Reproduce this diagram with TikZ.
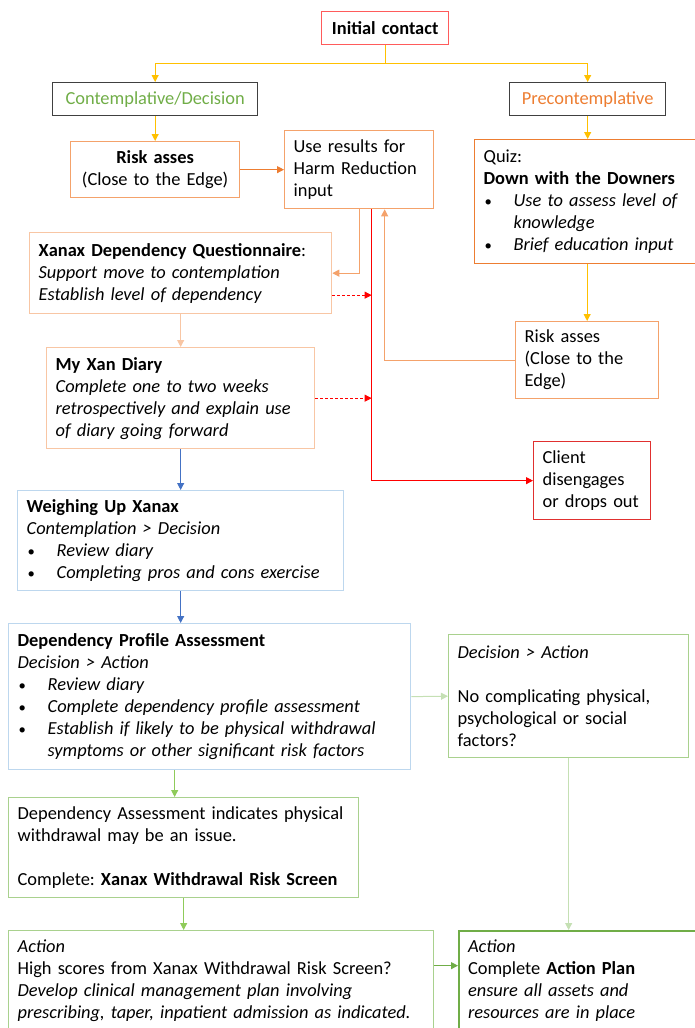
\documentclass[tikz,border=0pt]{standalone}
\usepackage{fontspec}
\setmainfont{Carlito}
\usetikzlibrary{arrows.meta}
\frenchspacing

\definecolor{gold}{HTML}{FFC000}
\definecolor{initred}{HTML}{FF5B5B}
\definecolor{dropred}{HTML}{E0302F}
\definecolor{darkline}{HTML}{404040}
\definecolor{ctgreen}{HTML}{70AD47}
\definecolor{ctorange}{HTML}{ED7D31}
\definecolor{midorange}{HTML}{F4A26B}
\definecolor{paleorange}{HTML}{F8C6A4}
\definecolor{arrblue}{HTML}{4472C4}
\definecolor{paleblue}{HTML}{BDD7EE}
\definecolor{palegreen}{HTML}{C5E0B4}
\definecolor{midgreen}{HTML}{A9D18E}
\definecolor{brightgreen}{HTML}{8FCB5A}

\newcommand\fs{\fontsize{18.4}{22}\selectfont}
\newcommand\bul{\makebox[30pt][l]{\hspace{1pt}\scalebox{0.8}{\textbullet}}}
\newcommand\ind{\hspace*{30pt}}

\tikzset{every picture/.style={line width=1pt}}
\tikzset{
  box/.style={draw=#1, rectangle, anchor=north west, align=left,
                inner xsep=9pt, inner ysep=0pt, line width=1.3pt, font=\fs},
  box/.default={midorange},
  cbox/.style={box=#1, align=center},
  arr/.style={draw=#1, -{Triangle[length=7pt,width=7pt]}},
  arr/.default={gold},
}

\begin{document}
\begin{tikzpicture}[x=1pt, y=-1pt]
  \useasboundingbox (0,0) rectangle (695,1028);
  \clip (0,0) rectangle (695,1028);
  % top row
  \node[cbox=initred, text width=109pt, minimum height=33pt] (init) at (321,11) {\textbf{Initial contact}};
  \node[cbox=darkline, text width=187pt, minimum height=33pt, text=ctgreen] (contemp) at (52,82) {Contemplative/Decision};
  \node[cbox=darkline, text width=138pt, minimum height=33pt, text=ctorange] (precon) at (509,82) {Precontemplative};
  % orange boxes
  \node[cbox, text width=151pt, minimum height=56pt] (riskL) at (70,141) {\textbf{Risk asses}\\(Close to the Edge)};
  \node[box, text width=131pt, minimum height=78pt] (useres) at (284,130) {Use results for\\Harm Reduction\\input};
  \node[box=ctorange, text width=222pt, minimum height=124pt] (quiz) at (474,139)
    {Quiz:\\\textbf{Down with the Downers}\\\bul\textit{Use to assess level of}\\\ind\textit{knowledge}\\\bul\textit{Brief education input}};
  \node[box=paleorange, text width=284pt, minimum height=81pt] (xdq) at (29,232)
    {\textbf{Xanax Dependency Questionnaire}:\\\textit{Support move to contemplation}\\\textit{Establish level of dependency}};
  \node[box, text width=125pt, minimum height=77pt] (riskR) at (515,321) {Risk asses\\(Close to the\\Edge)};
  \node[box=paleorange, text width=250pt, minimum height=101pt] (diary) at (46,347)
    {\textbf{My Xan Diary}\\\textit{Complete one to two weeks}\\\textit{retrospectively and explain use}\\\textit{of diary going forward}};
  \node[box=dropred, text width=99pt, minimum height=78pt] (client) at (533,441) {Client\\disengages\\or drops out};
  % blue boxes
  \node[box=paleblue, text width=308pt, minimum height=100pt] (weigh) at (17,490)
    {\textbf{Weighing Up Xanax}\\\textit{Contemplation > Decision}\\\bul\textit{Review diary}\\\bul\textit{Completing pros and cons exercise}};
  \node[box=paleblue, text width=384pt, minimum height=146pt] (dpa) at (8,623)
    {\textbf{Dependency Profile Assessment}\\\textit{Decision > Action}\\\bul\textit{Review diary}\\\bul\textit{Complete dependency profile assessment}\\\bul\textit{Establish if likely to be physical withdrawal}\\\ind\textit{symptoms or other significant risk factors}};
  % green boxes
  \node[box=midgreen, text width=222pt, minimum height=123pt] (decact) at (448,634)
    {\textit{Decision > Action}\\[22pt]No complicating physical,\\psychological or social\\factors?};
  \node[box=midgreen, text width=332pt, minimum height=100pt] (depass) at (8,797)
    {Dependency Assessment indicates physical\\withdrawal may be an issue.\\[22pt]Complete: \textbf{Xanax Withdrawal Risk Screen}};
  \node[box=midgreen, text width=407pt, minimum height=100pt] (actL) at (8,930)
    {\textit{Action}\\High scores from Xanax Withdrawal Risk Screen?\\\textit{Develop clinical management plan involving}\\\textit{prescribing, taper, inpatient admission as indicated.}};
  \node[box=ctgreen, line width=2pt, text width=232pt, minimum height=100pt] (actR) at (458,930)
    {\textit{Action}\\Complete \textbf{Action Plan}\\\textit{ensure all assets and}\\\textit{resources are in place}};

  % helper points
  \coordinate (rl) at ([xshift=12.5pt]useres.south);
  \coordinate (back) at ([xshift=25.5pt]useres.south);
  \coordinate (xdqout) at ([yshift=-22pt]xdq.east);
  \coordinate (dpaout) at ([xshift=-9pt]depass.north);
  \coordinate (actout) at ([yshift=15pt]actL.east);

  % connectors
  \draw[arr] (init.south) -- ++(0,18) -| (contemp.north);
  \draw[arr] (init.south) -- ++(0,18) -| (precon.north);
  \draw[arr] (contemp) -- (riskL);
  \draw[arr] (precon.south) -- (precon.south |- quiz.north);
  \draw[arr] (riskR.north |- quiz.south) -- (riskR.north);
  \draw[arr=ctorange] (riskL) -- (useres);
  \draw[arr=midorange] (useres.south) |- (xdq.east);
  \draw[arr=midorange] (riskR.west) -| (back);
  \draw[arr=paleorange] (xdq) -- (diary);
  \draw[arr=red] (rl) |- (client.west);
  \draw[arr=red, densely dashed, line width=0.8pt] (xdqout) -- (xdqout -| rl);
  \draw[arr=red, densely dashed, line width=0.8pt] (diary.east) -- (diary.east -| rl);
  \draw[arr=arrblue] (diary) -- (weigh);
  \draw[arr=arrblue] (weigh.south) -- (weigh.south |- dpa.north);
  \draw[arr=palegreen] (dpa.east) -- (decact.west);
  \draw[arr=brightgreen] (dpaout |- dpa.south) -- (dpaout);
  \draw[arr=brightgreen] (depass.south) -- (depass.south |- actL.north);
  \draw[arr=palegreen] (decact.south) -- (decact.south |- actR.north);
  \draw[arr=ctgreen] (actout) -- (actout -| actR.west);
\end{tikzpicture}
\end{document}
